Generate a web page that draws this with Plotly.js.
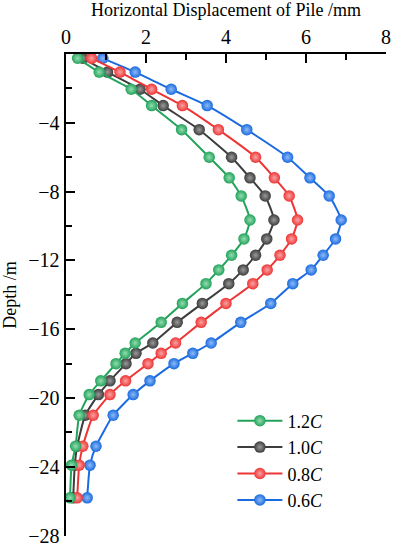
<!DOCTYPE html>
<html>
<head>
<meta charset="utf-8">
<script src="https://cdn.plot.ly/plotly-3.0.1.min.js"></script>
<style>
  html, body { margin: 0; padding: 0; background: #fff; }
  #chart { width: 394px; height: 550px; }
</style>
</head>
<body>
<div id="chart"></div>
<script>
// Depth of nodes along the pile (m)
const depth = [-0.25, -1.05, -2.05, -3.0, -4.4, -6.0, -7.2, -8.25, -9.65, -10.75, -11.7, -12.55,
               -13.35, -14.5, -15.6, -16.8, -17.4, -18.0, -19.0, -19.8, -21.0, -22.8, -23.9, -25.8];
// Horizontal displacement of pile (mm) for each cohesion ratio
const disp12C = [0.29, 0.83, 1.63, 2.14, 2.89, 3.58, 4.08, 4.38, 4.60, 4.45, 4.14, 3.82,
                 3.50, 2.91, 2.38, 1.73, 1.48, 1.25, 0.87, 0.58, 0.33, 0.24, 0.14, 0.10];
const disp10C = [0.42, 1.04, 1.85, 2.43, 3.33, 4.14, 4.60, 4.98, 5.20, 5.02, 4.74, 4.43,
                 4.07, 3.41, 2.78, 2.17, 1.75, 1.50, 1.10, 0.81, 0.48, 0.28, 0.22, 0.18];
const disp08C = [0.64, 1.35, 2.14, 2.91, 3.81, 4.74, 5.21, 5.58, 5.79, 5.64, 5.35, 5.03,
                 4.67, 4.00, 3.38, 2.74, 2.38, 2.05, 1.49, 1.10, 0.68, 0.42, 0.33, 0.28];
const disp06C = [0.92, 1.73, 2.63, 3.53, 4.52, 5.54, 6.10, 6.58, 6.88, 6.74, 6.43, 6.13,
                 5.67, 5.12, 4.37, 3.63, 3.17, 2.70, 2.10, 1.68, 1.18, 0.75, 0.60, 0.53];
const seriesNames = ['1.2<i>C</i>', '1.0<i>C</i>', '0.8<i>C</i>', '0.6<i>C</i>'];
const xTicks = [0, 2, 4, 6, 8];
const yTicks = [-4, -8, -12, -16, -20, -24, -28];
const yMinorTicks = [-2, -6, -10, -14, -18, -22, -26];

function series(x, name, color, light, rank) {
  return {
    x: x, y: depth, name: name, type: 'scatter', mode: 'lines+markers',
    legendrank: rank,
    line: {color: color, width: 2, shape: 'spline', smoothing: 0.5},
    marker: {size: 11.5, color: color, line: {width: 0},
             gradient: {type: 'radial', color: light}}
  };
}

const data = [
  series(disp06C, seriesNames[3], '#1a6be0', '#8fbaf5', 4),
  series(disp10C, seriesNames[1], '#3d3d3d', '#9a9a9a', 2),
  series(disp08C, seriesNames[2], '#ee3535', '#f9a3a3', 3),
  series(disp12C, seriesNames[0], '#23a35a', '#94dcb2', 1)
];

const tickFont = {family: 'Liberation Serif, Times New Roman, serif', size: 20, color: '#000'};
const titleFont = {family: 'Liberation Serif, Times New Roman, serif', size: 18, color: '#000'};

const layout = {
  width: 394, height: 550,
  margin: {l: 66, r: 8, t: 54, b: 14},
  paper_bgcolor: '#fff', plot_bgcolor: '#fff',
  showlegend: true,
  legend: {
    x: 0.52, y: 0.277, xanchor: 'left', yanchor: 'top',
    bgcolor: 'rgba(255,255,255,0.9)', borderwidth: 0,
    font: {family: 'Liberation Serif, Times New Roman, serif', size: 18, color: '#000'},
    itemwidth: 45
  },
  xaxis: {
    side: 'top', range: [0, 8.001], tickvals: xTicks, ticktext: xTicks.map(String),
    ticks: 'inside', ticklen: 9, tickwidth: 2, tickcolor: '#000',
    minor: {tickvals: [1, 3, 5, 7], ticks: 'inside', ticklen: 6, tickwidth: 2, tickcolor: '#000'},
    showline: true, linewidth: 2.5, linecolor: '#000', mirror: false,
    showgrid: false, zeroline: false, tickfont: tickFont, ticklabeloverflow: 'allow',
    title: {text: 'Horizontal Displacement of Pile /mm', font: titleFont, standoff: 12},
    automargin: false
  },
  yaxis: {
    range: [-28.02, 0], tickvals: yTicks, ticktext: yTicks.map(v => '\u2212' + Math.abs(v)),
    ticks: 'inside', ticklen: 9, tickwidth: 2, tickcolor: '#000',
    minor: {tickvals: yMinorTicks, ticks: 'inside', ticklen: 6, tickwidth: 2, tickcolor: '#000'},
    showline: true, linewidth: 2.5, linecolor: '#000', mirror: false,
    showgrid: false, zeroline: false, tickfont: tickFont, ticklabeloverflow: 'allow',
    title: {text: 'Depth /m', font: titleFont, standoff: 8},
    automargin: false
  }
};

Plotly.newPlot('chart', data, layout, {displayModeBar: false, staticPlot: true});
</script>
</body>
</html>
